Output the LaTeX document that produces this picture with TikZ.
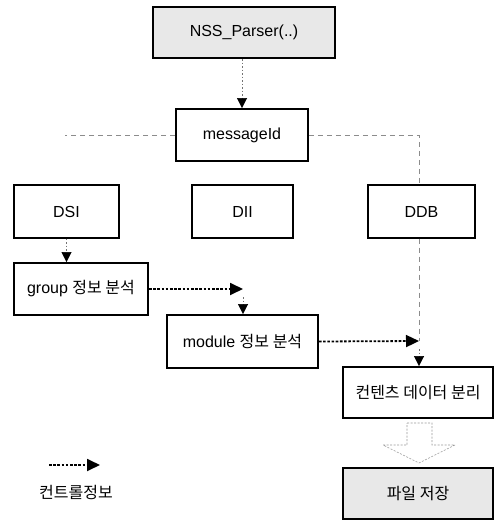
\documentclass[tikz,border=0pt]{standalone}
\usepackage{fontspec}
\setmainfont{Liberation Sans}
\newfontfamily\kr{Noto Sans CJK KR}
\usetikzlibrary{arrows.meta,calc}
\begin{document}
\begin{tikzpicture}[x=1pt,y=-1pt,
  every node/.style={font=\fontsize{16}{19}\selectfont},
  box/.style={draw=black,line width=1.8pt,minimum height=52pt,inner sep=0pt,fill=white},
  msgbox/.style={box,line width=1.3pt},
  greybox/.style={box,fill=black!9,line width=2.2pt},
  ctrl/.style={line width=1.8pt,dash pattern=on 2.6pt off 1.6pt,-{Triangle[length=13pt,width=12pt]}},
  faint/.style={draw=black!45,line width=0.6pt,dash pattern=on 5pt off 4pt},
  thinarrow/.style={draw=black!55,line width=0.6pt,dash pattern=on 1.5pt off 2pt,
    -{Triangle[length=10pt,width=10pt,fill=black,color=black]}},
  hollow/.style={draw=black!40,line width=0.6pt,dash pattern=on 2pt off 1.5pt,fill=white}
]
\useasboundingbox (0,0) rectangle (495,521);

% boxes
\node[greybox,minimum width=182pt,minimum height=51pt] (nss) at (244,32.5) {NSS\_Parser(..)};
\node[box,minimum width=132pt] (msg) at (242,135) {messageId};
\node[msgbox,minimum width=105pt,minimum height=53pt] (dsi) at (66.5,211.5) {DSI};
\node[msgbox,minimum width=101pt,minimum height=53pt] (dii) at (242.5,211.5) {DII};
\node[msgbox,minimum width=107pt,minimum height=53pt] (ddb) at (421.5,211.5) {DDB};
\node[box,minimum width=134pt] (grp) at (81,289) {group {\kr 정보 분석}};
\node[box,minimum width=151pt,minimum height=53pt] (mod) at (242.5,341.5) {module {\kr 정보 분석}};
\node[box,minimum width=150pt,minimum height=51pt] (cnt) at (418,392.5) {\kr 컨텐츠 데이터 분리};
\node[greybox,minimum width=150pt,minimum height=51pt] (save) at (418,493.5) {\kr 파일 저장};

% junction points of the control arrows
\coordinate (j1) at (243,289);
\coordinate (j2) at (419,341);
\coordinate (dleft) at (65,135);
\coordinate (dright) at (419,135);

% faint branches from messageId
\draw[faint] (msg.west) -- (dleft);
\draw[faint] (msg.east) -- (dright) -- (dright |- ddb.north);
\draw[faint] (ddb.south -| j2) -- (j2);

% small flow arrows
\draw[thinarrow] (nss.south -| msg.north) -- (msg.north);
\draw[thinarrow] (dsi.south) -- (dsi.south |- grp.north);
\draw[thinarrow] ($(j1)+(0,8)$) -- (j1 |- mod.north);
\draw[thinarrow] ($(j2)+(0,8)$) -- (j2 |- cnt.north);

% control information arrows
\draw[ctrl] (grp.east) -- (j1);
\draw[ctrl] (mod.east) -- (j2);

% hollow block arrow to the storage step
\draw[hollow] (407,423) -- (432,423) -- (432,445) -- (455,445) -- (419,463)
  -- (383,445) -- (407,445) -- cycle;

% legend
\coordinate (la) at (49,465);
\coordinate (lb) at (100,465);
\draw[ctrl] (la) -- (lb);
\node[font=\kr\fontsize{16}{19}\selectfont] (legend) at (76,492) {컨트롤정보};
\end{tikzpicture}
\end{document}
